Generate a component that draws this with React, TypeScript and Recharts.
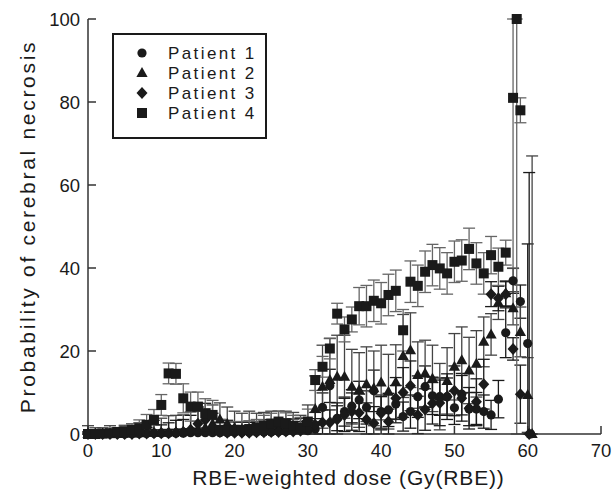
import React from 'react';
import { ScatterChart, Scatter, XAxis, YAxis, ErrorBar } from 'recharts';

// dose bins (Gy(RBE)) shared by the four patients up to 57 Gy
const dose = [
  0, 1, 2, 3, 4, 5, 6, 7, 8, 9, 10, 11, 12, 13, 14, 15, 16, 17, 18, 19,
  20, 21, 22, 23, 24, 25, 26, 27, 28, 29, 30, 31, 32, 33, 34, 35, 36, 37, 38, 39,
  40, 41, 42, 43, 44, 45, 46, 47, 48, 49, 50, 51, 52, 53, 54, 55, 56, 57,
];

const p1Prob = [
  0, 0, 0, 0, 0, 0, 0.1, 0.1, 0.1, 0.2, 0.2, 0.2, 0.2, 0.2, 0.3, 0.3, 0.3, 0.3, 0.3, 0.3,
  0.4, 0.4, 0.4, 0.5, 0.5, 0.5, 0.6, 0.6, 0.8, 1.0, 0.8, 1.2, 6.4, 11.6, 3.8, 5.4, 6.7, 8.2, 6.4, 10.4,
  5.4, 5.8, 7.2, 4.2, 5.4, 9, 11.4, 9.2, 9, 9, 6.3, 9.6, 6, 6, 5.4, 4.6, 8.4, 24.4,
];
const p1Err = [
  0.3, 0.3, 0.3, 0.4, 0.5, 0.5, 0.6, 0.6, 0.7, 0.8, 0.8, 0.9, 0.9, 1, 1, 1.1, 1.1, 1.2, 1.2, 1.3,
  1.3, 1.4, 1.4, 1.5, 1.5, 1.6, 1.6, 1.7, 1.8, 2, 2, 2.5, 3.5, 4, 3, 3.5, 4, 4.5, 4, 5,
  4, 4, 4.5, 3.5, 4, 5, 5, 4.5, 4.5, 4.5, 4, 5, 4, 4, 4, 3.5, 4.5, 6,
];

const p2Prob = [
  0, 0, 0, 0, 0, 0.1, 0.1, 0.2, 0.3, 0.3, 0.3, 0.4, 0.5, 0.6, 0.8, 1.0, 1.5, 2.5, 3.5, 2.5,
  1.5, 1, 1, 1, 1.2, 1.5, 1.5, 1.5, 1.2, 1, 2, 6, 11.4, 13, 13.8, 13.8, 11.4, 10.6, 12, 11,
  12.4, 10.2, 12.5, 18.8, 20.2, 14.2, 14.6, 13.4, 9, 12.8, 16.2, 17.8, 15.3, 16.9, 22.2, 24, 31.6, 33.9,
];
const p2Err = [
  2, 1.5, 1.5, 2, 1.5, 2, 2, 2.5, 2.5, 3, 3.5, 4, 4, 4, 4.5, 4.5, 4.5, 4.5, 4, 4,
  4, 4, 4.5, 4, 4, 4, 4, 4, 4, 3.5, 5, 8, 10, 10, 10, 10, 9, 9, 9, 9,
  9, 9, 9, 10, 9, 8, 8, 8, 8, 8, 8, 8, 8, 8, 6, 5, 4, 3,
];

const p3Prob = [
  0, 0, 0, 0, 0, 0, 0, 0.1, 0.1, 0.2, 0.2, 0.2, 0.3, 0.5, 1, 2.5, 3.4, 1.5, 0.5, 0.3,
  0.3, 0.3, 0.3, 0.4, 0.4, 0.5, 0.5, 0.6, 0.6, 0.8, 1.2, 2.2, 2.8, 2.8, 3.5, 4.6, 5.4, 5.1, 3.5, 2.6,
  5, 3, 8.6, 10, 11.6, 4.6, 5.9, 7.4, 7.5, 9, 10.4, 8.6, 6.2, 7.8, 12, 33.7, 32.7, 33.7,
];
const p3Err = [
  0.5, 0.5, 0.6, 0.8, 1, 1, 1.2, 1.5, 1.5, 2, 2, 2.5, 3, 3, 3.5, 4, 4, 3.5, 3, 3,
  2.5, 2.5, 2.5, 2.5, 3, 3, 3, 3, 3, 3, 2, 3, 3, 3, 4, 4, 4.5, 4.5, 4, 4,
  4, 3, 5, 6, 6, 4.5, 5, 5, 5.5, 5.5, 6, 5.5, 5, 5.5, 6, 3, 3, 3,
];

const p4Prob = [
  0, 0, 0.1, 0.2, 0.5, 0.6, 1, 1.4, 2.2, 3.4, 7, 14.6, 14.5, 8.6, 6.6, 6.6, 5, 4.6, 1, 0.8,
  1, 1, 1.2, 1.5, 2, 2.5, 3, 2.6, 2, 1.5, 3, 13, 16.2, 20.6, 29, 25.2, 27.6, 30.8, 30.8, 32.1,
  31.5, 33.5, 34.5, 25, 36.7, 35.7, 39.1, 40.7, 39.9, 38.7, 41.5, 41.8, 44.6, 41.1, 38.7, 43.1, 40.3, 43.7,
];
const p4Err = [
  0.3, 0.3, 0.5, 0.7, 1, 1.2, 1.5, 2, 2.5, 2.5, 2.5, 2.5, 2.5, 3.5, 3.5, 3.5, 3.5, 3.5, 2.5, 2,
  2, 2, 2, 2, 2.5, 2.5, 2.5, 2.5, 2.5, 2.5, 3, 2.5, 2.5, 2.5, 2.5, 3, 3, 4.5, 5, 5,
  5, 5, 5, 5, 5, 5, 5, 5, 5, 5, 5, 5, 5, 5, 5, 4.5, 4.5, 3,
];

// last few bins above 57 Gy
const p1TailDose = [58, 59, 60, 60.4];
const p1TailProb = [36.9, 31.9, 21.8, 0];
const p1TailErr = [3, 4, 24, 0];
const p2TailDose = [58, 59, 60, 60.6];
const p2TailProb = [30.3, 24.6, 9.4, 0];
const p2TailErr = [4, 6, 9, 67];
const p3TailDose = [58, 59, 60.2];
const p3TailProb = [20.5, 9.6, 0];
const p3TailErr = [2.7, 7, 63];
const p4TailDose = [58, 58.5, 59];
const p4TailProb = [81, 100, 78];
const p4TailErr = [41, 100, 3];

const xTicks = [0, 10, 20, 30, 40, 50, 60, 70];
const yTicks = [0, 20, 40, 60, 80, 100];

const INK = '#1a1a1a';
const FONT = '"Liberation Sans", Arial, sans-serif';

type Kind = 'circle' | 'triangle' | 'diamond' | 'square';

function buildPoints(xs: number[], ys: number[], errs: number[]) {
  return xs.map((x, i) => {
    const y = ys[i];
    const e = errs[i];
    // error bars are cut at the axis range like in the original plot
    return { x, y, err: [Math.min(e, y), Math.min(e, 100 - y)] };
  });
}

const series = [
  { name: 'Patient 1', kind: 'circle' as Kind, bar: INK,
    data: buildPoints([...dose, ...p1TailDose], [...p1Prob, ...p1TailProb], [...p1Err, ...p1TailErr]) },
  { name: 'Patient 2', kind: 'triangle' as Kind, bar: '#444',
    data: buildPoints([...dose, ...p2TailDose], [...p2Prob, ...p2TailProb], [...p2Err, ...p2TailErr]) },
  { name: 'Patient 3', kind: 'diamond' as Kind, bar: INK,
    data: buildPoints([...dose, ...p3TailDose], [...p3Prob, ...p3TailProb], [...p3Err, ...p3TailErr]) },
  { name: 'Patient 4', kind: 'square' as Kind, bar: '#666',
    data: buildPoints([...dose, ...p4TailDose], [...p4Prob, ...p4TailProb], [...p4Err, ...p4TailErr]) },
];

function Marker({ cx, cy, kind }: { cx: number; cy: number; kind: Kind }) {
  if (cx == null || cy == null) return null;
  if (kind === 'circle') return <circle cx={cx} cy={cy} r={4.6} fill={INK} />;
  if (kind === 'square') return <rect x={cx - 5} y={cy - 5} width={10} height={10} fill={INK} />;
  if (kind === 'triangle')
    return <polygon points={`${cx},${cy - 6} ${cx - 5.6},${cy + 4} ${cx + 5.6},${cy + 4}`} fill={INK} />;
  return <polygon points={`${cx},${cy - 6} ${cx + 5.5},${cy} ${cx},${cy + 6} ${cx - 5.5},${cy}`} fill={INK} />;
}

function LegendBox() {
  return (
    <div
      style={{
        position: 'absolute',
        left: 112,
        top: 33,
        width: 151,
        height: 94,
        border: `2px solid ${INK}`,
        background: '#fff',
        paddingTop: 8,
        boxSizing: 'content-box',
      }}
    >
      {series.map((s) => (
        <div key={s.name} style={{ display: 'flex', alignItems: 'center', height: 20 }}>
          <svg width={54} height={20} style={{ display: 'block' }}>
            <Marker cx={28} cy={10} kind={s.kind} />
          </svg>
          <span style={{ fontFamily: FONT, fontSize: 17, letterSpacing: 2.4, color: INK, lineHeight: '19px' }}>
            {s.name}
          </span>
        </div>
      ))}
    </div>
  );
}

export default function App() {
  const tickStyle = { fontSize: 18.5, fill: INK, fontFamily: FONT };
  return (
    <div style={{ position: 'absolute', left: 0, top: 0, width: 615, height: 490, background: '#fff', fontFamily: FONT }}>
      <ScatterChart width={615} height={490} margin={{ top: 19, right: 14, bottom: 0, left: 0 }}>
        <XAxis
          type="number"
          dataKey="x"
          domain={[0, 70]}
          ticks={xTicks}
          height={56}
          tickSize={-8}
          tickMargin={18}
          tick={tickStyle}
          stroke="#333"
          strokeWidth={1.5}
          interval={0}
          label={{ value: 'RBE-weighted dose (Gy(RBE))', position: 'insideBottom', offset: 5, dx: 4,
            style: { fontSize: 21, fill: INK, letterSpacing: 0.85, fontFamily: FONT } }}
        />
        <XAxis xAxisId="top" orientation="top" type="number" domain={[0, 70]} ticks={xTicks}
          height={0} tickSize={-8} tick={false} stroke="#333" strokeWidth={1.5} />
        <YAxis
          type="number"
          dataKey="y"
          domain={[0, 100]}
          ticks={yTicks}
          width={88}
          tickSize={-8}
          tickMargin={16}
          tick={tickStyle}
          stroke="#333"
          strokeWidth={1.5}
          interval={0}
          label={{ value: 'Probability of cerebral necrosis', angle: -90, position: 'insideLeft', offset: 28,
            textAnchor: 'middle', style: { fontSize: 21, fill: INK, letterSpacing: 2.7, fontFamily: FONT, textAnchor: 'middle' } }}
        />
        <YAxis yAxisId="right" orientation="right" type="number" domain={[0, 100]} ticks={yTicks}
          width={0} tickSize={-8} tick={false} stroke="#333" strokeWidth={1.5} />
        {series.map((s) => (
          <Scatter
            key={s.name}
            name={s.name}
            data={s.data}
            isAnimationActive={false}
            shape={(p: any) => <Marker cx={p.cx} cy={p.cy} kind={s.kind} />}
          >
            <ErrorBar dataKey="err" direction="y" width={6} stroke={s.bar} strokeWidth={1.3} />
          </Scatter>
        ))}
      </ScatterChart>
      <LegendBox />
    </div>
  );
}
